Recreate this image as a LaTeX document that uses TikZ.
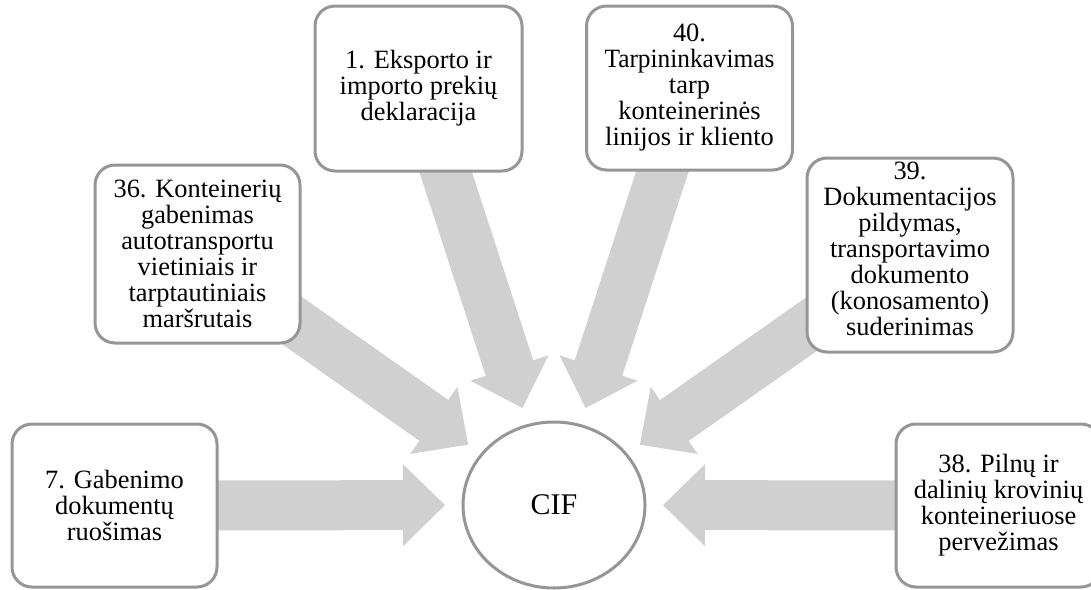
\documentclass[tikz,border=0pt]{standalone}
\usepackage{fontspec}
\setmainfont{Liberation Serif}
\usetikzlibrary{calc,backgrounds,shapes.geometric}

\definecolor{boxgray}{RGB}{150,150,150}
\definecolor{arrowgray}{RGB}{208,208,208}

\tikzset{
  stage/.style={draw=boxgray, line width=3pt, rounded corners=20pt, fill=white,
    align=center, inner sep=2pt,
    font=\fontsize{26.4}{26}\selectfont},
  stagetext/.style={align=center, inner sep=0pt,
    font=\fontsize{26.4}{26}\selectfont},
  hub/.style={ellipse, draw=boxgray, line width=3pt, fill=white,
    minimum width=182pt, minimum height=166pt, inner sep=0pt,
    font=\fontsize{30}{30}\selectfont},
  flow/.style={fill=arrowgray, draw=none}
}

% block arrow from the centre of #1 towards the centre of #2,
% its tip #3 away from the centre of #2
\newcommand{\flowarrow}[3]{%
  \coordinate (T) at ($(#2.center)!#3!(#1.center)$);
  \coordinate (B) at ($(T)!42pt!(#1.center)$);
  \fill[flow] ($(#1.center)!25pt!90:(T)$) -- ($(B)!25pt!90:(T)$)
    -- ($(B)!41pt!90:(T)$) -- (T) -- ($(B)!41pt!-90:(T)$)
    -- ($(B)!25pt!-90:(T)$) -- ($(#1.center)!25pt!-90:(T)$) -- cycle;
}

\begin{document}
\begin{tikzpicture}[x=1pt, y=-1pt]
  \useasboundingbox (0,0) rectangle (1091,589);

  \node[hub] (cif) at (554,505) {CIF};

  \node[stage, minimum width=207pt, minimum height=165pt] (b1) at (418.5,88.5)
    {1. Eksporto ir\\importo prekių\\deklaracija};
  \node[stage, minimum width=206pt, minimum height=164pt] (b40) at (689.5,88)
    {40.\\\scalebox{0.96}[1]{Tarpininkavimas}\\tarp\\konteinerinės\\linijos ir kliento};
  \node[stage, minimum width=205pt, minimum height=178pt] (b36) at (197.5,254)
    {};
  \node[stagetext] (t36) at (197.5,254)
    {36. Konteinerių\\gabenimas\\autotransportu\\vietiniais ir\\tarptautiniais\\maršrutais};
  \node[stage, minimum width=206pt, minimum height=194pt] (b39) at (910,255)
    {};
  \node[stagetext] (t39) at (910,249)
    {39.\\Dokumentacijos\\pildymas,\\transportavimo\\dokumento\\(konosamento)\\suderinimas};
  \node[stage, minimum width=205pt, minimum height=163pt] (b7) at (114.5,505.5)
    {7. Gabenimo\\dokumentų\\ruošimas};
  \node[stage, minimum width=205pt, minimum height=163pt] (b38) at (998.5,505.5)
    {38. Pilnų ir\\dalinių krovinių\\konteineriuose\\pervežimas};

  \begin{scope}[on background layer]
    \flowarrow{b7}{cif}{109pt}
    \flowarrow{b38}{cif}{109pt}
    \flowarrow{b1}{cif}{102pt}
    \flowarrow{b40}{cif}{102pt}
    \flowarrow{b36}{cif}{105pt}
    \flowarrow{b39}{cif}{105pt}
  \end{scope}
\end{tikzpicture}
\end{document}
